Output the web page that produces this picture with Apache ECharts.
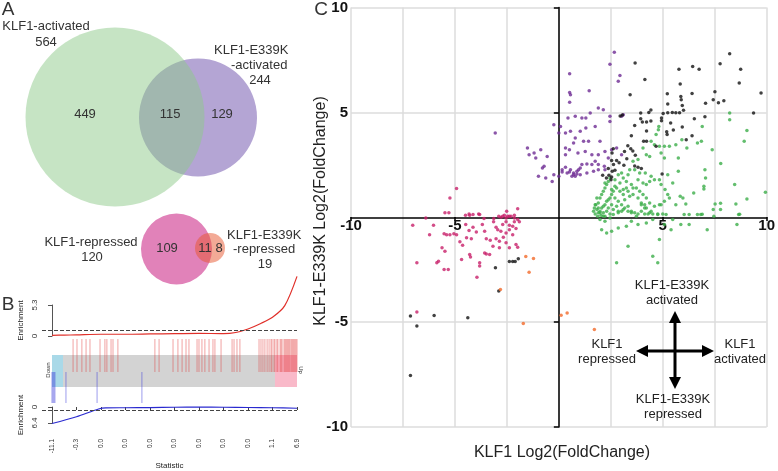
<!DOCTYPE html>
<html><head><meta charset="utf-8">
<script src="https://cdn.jsdelivr.net/npm/echarts@6/dist/echarts.min.js"></script>
<style>html,body{margin:0;padding:0;background:#fff}#c{width:778px;height:471px}</style>
</head><body><div id="c"></div>
<script>
// ---------- Panel A: Venn counts ----------
const vennActLabels = ['KLF1-activated', 'KLF1-E339K', '-activated'];
const vennActTotals = [564, 244];
const vennActParts = [449, 115, 129];
const vennRepLabels = ['KLF1-repressed', 'KLF1-E339K', '-repressed'];
const vennRepTotals = [120, 19];
const vennRepParts = [109, 11, 8];

// ---------- Panel B: barcode plot ----------
const statTickLabels = ['-11.1','-0.3','0.0','0.0','0.0','0.0','0.0','0.0','0.0','1.1','6.9'];
const enrichUpX = [0,0.5,1,2,3,4,5,6,7,7.5,8,8.5,9,9.5,10];
const enrichUpY = [0.12,0.15,0.2,0.3,0.3,0.35,0.4,0.45,0.4,0.6,1.2,2.1,3.2,5.2,10.2];
const enrichDownX = [0,1,1.9,2.2,3,4,5,6,7,8,9,10];
const enrichDownY = [6.6,3.9,0.8,0.35,0.3,0.25,0.1,0.05,0.1,0.2,0.3,0.5];
const upBarcode = [0.86,1.02,1.22,1.39,1.55,1.96,2.16,2.24,2.41,2.49,2.69,4.20,4.37,4.94,5.14,5.31,5.47,5.59,5.92,6.00,6.12,6.24,6.41,6.57,6.65,6.90,7.35,7.43,7.55,7.67,
  8.45,8.53,8.61,8.69,8.78,8.86,8.94,8.98,9.06,9.10,9.18,9.22,9.31,9.35,9.39,9.47,9.51,9.55,9.59,9.63,9.67,9.71,9.76,9.80,9.84,9.88,9.92,9.96,10.0];
const downBarcode = [0.0,0.04,0.08,0.12,0.57,1.84,3.67];

// ---------- Panel C: scatter (KLF1 log2FC, KLF1-E339K log2FC) ----------
const bothActivated = [[8.22,7.79],[7.76,7.32],[8.75,7.06],[6.44,7.19],[6.75,7.06],[5.78,7.06],[3.67,7.35],[4.14,6.57],[5.84,6.35],[8.68,6.40],[9.73,5.92],[7.51,5.98],[6.41,5.90],[5.22,5.89],[5.87,5.76],[5.89,5.60],[7.43,5.60],[7.68,5.46],[7.94,5.56],[7.06,5.43],[5.94,5.33],[3.43,5.84],[5.24,5.40],[5.02,4.95],[5.46,5.00],[5.24,4.98],[5.63,4.98],[5.81,4.98],[6.00,5.10],[6.52,4.70],[7.03,4.79],[9.37,4.97],[4.43,5.11],[4.33,5.00],[3.94,4.97],[4.94,4.73],[4.94,4.60],[5.38,4.49],[5.94,4.30],[5.51,4.16],[5.19,4.08],[5.21,3.95],[6.13,3.70],[6.41,3.89],[3.06,4.87],[2.95,4.83],[3.94,4.70],[4.02,4.54],[4.22,4.54],[3.65,4.38],[4.22,4.11],[4.43,4.59],[3.49,3.89],[4.08,3.62],[4.22,3.62],[4.68,3.38],[3.32,3.41],[3.46,3.27],[3.56,3.16],[3.16,3.14],[3.27,2.79],[3.13,2.48],[2.90,2.60],[2.62,3.27],[2.56,3.06],[2.54,2.70],[2.63,2.51],[2.78,2.71],[2.38,2.32],[2.57,2.19],[2.70,2.24],[2.41,2.00],[2.54,1.92],[2.29,1.87],[2.51,1.79],[2.11,2.00],[3.97,2.32],[3.81,2.38],[4.97,2.06],[3.68,2.95],[3.65,2.44],
  [-3.05,-2.41],[-2.89,-3.52],[-2.38,-2.11],[-2.22,-2.11],[-2.10,-2.11],[-1.95,-1.98],[-7.14,-4.71],[-6.00,-4.68],[-6.83,-5.19],[-4.38,-4.79],[-7.14,-7.54]];
const klf1Activated = [[8.22,4.97],[8.22,4.65],[9.05,4.14],[8.92,3.62],[6.90,4.33],[5.92,3.70],[6.16,3.30],[6.67,3.54],[6.86,3.62],[7.38,3.22],[7.79,2.56],[7.03,2.27],[7.06,1.87],[6.98,1.48],[6.98,1.35],[6.49,1.16],[8.46,1.56],[9.94,1.19],[9.05,0.87],[8.52,0.63],[8.70,0.14],[7.78,0.67],[7.52,0.63],[7.43,0.37],[6.90,0.14],[6.67,0.13],[6.27,0.13],[5.97,0.92],[5.84,1.00],[6.11,0.63],[5.63,0.60],[5.48,1.63],[5.75,2.83],[5.75,2.19],[5.24,2.03],[5.08,2.83],[4.92,3.06],[4.81,4.33],[4.79,4.17],[4.68,3.94],[4.44,3.62],[4.60,3.46],[4.84,3.38],[5.08,3.38],[5.32,3.38],[5.63,3.46],[4.05,3.30],[4.21,2.98],[4.37,2.90],[3.81,2.75],[3.57,2.67],[3.65,2.27],[3.89,2.11],[4.16,2.11],[4.44,1.95],[4.60,1.79],[4.84,1.79],[4.92,1.56],[5.11,1.32],[5.24,1.08],[5.32,0.92],[5.08,0.76],[4.84,0.60],[4.60,0.52],[4.37,0.68],[4.21,0.92],[4.05,1.08],[3.89,1.24],[3.73,1.40],[3.49,1.56],[3.25,1.71],[3.10,1.87],[3.02,2.11],[3.33,2.03],[3.41,2.27],[3.25,1.40],[2.94,1.63],[2.78,1.40],[2.62,1.24],[2.54,1.08],[2.46,0.92],[2.38,0.84],[2.30,0.76],[2.22,0.60],[2.14,0.52],[2.06,0.44],[1.98,0.29],[1.90,0.21],[1.83,0.37],[1.90,0.68],[1.98,0.92],[2.06,1.08],[2.14,1.24],[2.22,1.40],[2.30,1.56],[2.38,1.71],[2.22,1.63],[2.46,1.87],[2.70,1.79],[2.86,2.03],[2.70,0.92],[2.86,0.76],[3.02,0.60],[3.17,0.44],[3.33,0.29],[3.49,0.21],[3.65,0.21],[3.81,0.16],[3.97,0.29],[4.13,0.16],[4.29,0.16],[4.52,0.16],[4.76,0.16],[5.00,0.16],[2.86,0.21],[3.02,0.29],[2.54,0.60],[2.38,0.44],[2.30,0.29],[2.14,0.21],[1.75,0.16],[1.83,0.92],[1.78,0.60],[1.71,0.44],[1.67,0.29],[1.87,0.05],[2.03,0.10],[2.22,0.05],[2.46,0.16],[2.62,0.37],[2.78,0.52],[3.17,0.84],[3.41,1.00],[3.57,1.08],[3.81,0.92],[3.97,0.68],[4.13,0.60],[4.21,0.44],[4.44,0.29],[3.10,1.32],[3.33,1.24],[3.57,1.40],[3.81,1.79],[4.05,1.63],[4.21,1.56],[4.37,1.71],[3.10,1.08],[2.94,1.24],[2.70,1.48],[2.54,1.32],
  [1.75,0.60],[1.90,0.44],[1.98,0.21],[2.14,0.05],[1.98,-0.11],[2.22,-0.19],[2.46,-0.03],[2.62,0.13],[2.86,0.29],[3.10,0.37],[3.33,0.52],[3.49,0.29],[3.73,0.05],[3.97,0.60],[4.13,0.44],[4.37,0.21],[4.52,-0.11],[4.21,-0.27],[3.81,-0.35],[3.49,-0.19],[3.25,-0.43],[2.86,-0.51],[2.54,-0.67],[2.30,-0.75],[2.06,-0.59],[3.33,-1.38],[2.78,-2.17],[4.52,-1.86],[4.76,-2.17],[4.84,-1.06],[5.08,-0.35],[5.40,-0.59],[5.48,-0.11],[5.87,-0.35],[6.27,-0.35],[6.83,0.13],[7.14,-0.59],[7.46,0.05],[7.78,0.37],[8.65,0.13],[8.57,-0.35],[6.03,0.13],[4.76,0.13],[5.16,0.13],[4.92,0.60]];
const e339kActivated = [[2.67,7.87],[2.46,7.30],[2.94,6.76],[2.86,6.48],[0.52,6.84],[0.52,5.95],[0.56,5.84],[0.52,5.48],[1.46,6.03],[1.90,5.21],[2.14,5.13],[1.51,4.97],[1.30,4.73],[0.79,4.81],[1.11,4.73],[0.44,4.73],[2.46,4.81],[3.02,4.81],[3.10,4.89],[-0.24,4.41],[0.08,4.33],[0.00,4.02],[0.32,4.02],[0.56,4.10],[1.03,4.10],[1.30,4.25],[1.75,4.33],[2.46,4.57],[1.98,3.62],[1.43,3.62],[1.19,3.62],[0.79,3.78],[0.71,3.54],[0.51,3.22],[0.32,3.30],[0.32,2.98],[0.92,3.06],[1.27,3.14],[1.59,2.98],[1.90,2.98],[2.22,3.14],[2.54,3.22],[2.78,3.30],[3.02,2.98],[2.38,2.83],[1.75,2.67],[1.59,2.51],[1.35,2.54],[1.11,2.51],[1.03,2.35],[0.87,2.19],[0.71,2.11],[0.56,2.27],[0.32,2.38],[0.16,2.27],[0.16,2.16],[0.40,2.11],[0.63,1.95],[0.79,1.95],[0.95,2.27],[1.35,2.11],[1.67,2.19],[1.90,2.27],[0.00,1.95],[-0.32,1.71],[-0.63,1.87],[-0.98,1.95],[-0.79,2.35],[-0.71,2.43],[-1.43,2.98],[-1.11,2.83],[-1.19,3.06],[-0.87,3.22],[-0.56,2.90],[-1.51,3.30],[-0.24,2.03],[1.90,2.51],[2.19,2.43],[2.22,2.27],[-3.06,4.02],[0.71,2.03],[0.87,2.06],[1.03,2.03],[0.51,2.16]];
const klf1Repressed = [[-7.03,-0.38],[-6.40,-0.03],[-6.03,-0.38],[-6.22,-0.83],[-5.52,-0.79],[-5.40,-0.83],[-5.24,-0.83],[-5.05,-0.79],[-4.92,-0.83],[-5.48,0.21],[-5.29,0.21],[-5.62,-1.46],[-5.87,-2.17],[-5.79,-2.10],[-5.52,-2.49],[-5.32,-2.49],[-6.83,-2.17],[-4.49,0.10],[-4.29,0.10],[-4.13,0.13],[-3.81,0.13],[-4.48,-0.35],[-4.32,-0.63],[-4.13,-0.48],[-3.97,-0.70],[-3.68,-0.35],[-3.57,-0.67],[-4.21,-1.02],[-4.63,-1.33],[-4.29,-1.78],[-4.25,-1.90],[-3.81,-2.17],[-3.81,-2.33],[-3.94,-2.86],[-3.57,-1.70],[-3.49,-1.75],[-3.33,-1.78],[-3.17,-1.38],[-3.30,-1.10],[-3.02,-1.02],[-2.86,-1.14],[-2.67,-0.95],[-2.54,-0.75],[-2.38,-0.60],[-2.22,-0.83],[-2.79,-0.67],[-2.70,-0.35],[-2.54,-0.22],[-2.38,-0.38],[-2.22,-0.43],[-2.06,-0.54],[-2.14,-0.22],[-1.98,-0.11],[-1.90,-0.22],[-2.54,-0.03],[-2.46,0.05],[-2.30,0.05],[-2.14,0.10],[-2.62,0.10],[-2.78,0.00],[-2.89,0.05],[-3.14,-0.22],[-3.02,-0.48],[-2.94,-0.59],[-3.49,-1.02],[-2.86,-1.46],[-2.54,-1.22],[-2.38,-1.46],[-2.06,-1.30],[-1.98,-1.43],[-4.44,-0.98],[-4.76,-1.17],[-5.48,-1.62],[-4.68,-2.02],[-6.83,-4.52],
  [-4.92,1.37],[-5.24,0.92],[-4.32,0.16],[-3.86,0.16],[-3.60,-0.06],[-3.13,-0.06],[-2.51,0.29],[-1.98,0.40],[-2.70,0.05],[-2.38,0.05],[-2.14,-0.03]];
const e339kRepressed = [[-1.59,-1.87],[-1.22,-1.97],[-1.43,-2.62],[-2.81,-3.44],[0.11,-4.67],[0.40,-4.56],[-1.71,-5.06],[1.71,-5.35]];
const scatterTicks = [-10,-5,5,10];

const FONT = 'Liberation Sans, Arial, sans-serif';
const chart = echarts.init(document.getElementById('c'), null, {renderer:'canvas'});

function txt(x, y, text, size, opts) {
  opts = opts || {};
  return {type:'text', x:x, y:y, rotation: opts.rot || 0, z: 100,
    style:{x:0, y:0, text:String(text), fill: opts.color || '#333', fontSize:size, fontFamily:FONT,
      fontWeight: opts.weight || 'normal', textAlign: opts.align || 'center', textVerticalAlign:'middle', verticalAlign:'middle'}};
}

const graphics = [
  txt(8, 10, 'A', 19), txt(8, 305, 'B', 19), txt(321, 10, 'C', 19),
  // Venn activated
  {type:'circle', shape:{cx:198, cy:117.5, r:59}, style:{fill:'rgb(180,165,212)'}},
  {type:'circle', shape:{cx:115, cy:117, r:89.5}, style:{fill:'rgba(141,201,137,0.5)'}},
  txt(46, 26, vennActLabels[0], 13), txt(46, 42, vennActTotals[0], 13),
  txt(214, 50, vennActLabels[1], 13, {align:'left'}), txt(231, 65, vennActLabels[2], 13, {align:'left'}), txt(260, 80, vennActTotals[1], 13),
  txt(85, 114, vennActParts[0], 13), txt(170, 114, vennActParts[1], 13), txt(222, 114, vennActParts[2], 13),
  // Venn repressed
  {type:'circle', shape:{cx:176.5, cy:249, r:35.5}, style:{fill:'rgb(225,130,185)'}},
  {type:'circle', shape:{cx:210, cy:248, r:15}, style:{fill:'rgba(231,85,45,0.5)'}},
  txt(91, 242, vennRepLabels[0], 13), txt(92, 257, vennRepTotals[0], 13),
  txt(227, 235, vennRepLabels[1], 13, {align:'left'}), txt(233, 249, vennRepLabels[2], 13, {align:'left'}), txt(265, 264, vennRepTotals[1], 13),
  txt(167, 248, vennRepParts[0], 13), txt(205, 248, vennRepParts[1], 13), txt(219, 248, vennRepParts[2], 13),
  // barcode side labels
  txt(48, 370, 'Down', 6, {rot:Math.PI/2}), txt(301, 370, 'Up', 6, {rot:-Math.PI/2}),
  // Panel C axis titles
  txt(321, 211, 'KLF1-E339K Log2(FoldChange)', 16, {rot:Math.PI/2, color:'#222'}),
  txt(562, 453, 'KLF1 Log2(FoldChange)', 16, {color:'#222'}),
  // annotation
  txt(672, 285, 'KLF1-E339K', 13, {color:'#222'}), txt(672, 300, 'activated', 13, {color:'#222'}),
  txt(607, 344, 'KLF1', 13, {color:'#222'}), txt(607, 359, 'repressed', 13, {color:'#222'}),
  txt(740, 344, 'KLF1', 13, {color:'#222'}), txt(740, 359, 'activated', 13, {color:'#222'}),
  txt(673, 399, 'KLF1-E339K', 13, {color:'#222'}), txt(673, 414, 'repressed', 13, {color:'#222'}),
  {type:'line', z:100, shape:{x1:645, y1:351, x2:705, y2:351}, style:{stroke:'#000', lineWidth:3}},
  {type:'line', z:100, shape:{x1:675, y1:320, x2:675, y2:380}, style:{stroke:'#000', lineWidth:3}},
  {type:'polygon', z:100, shape:{points:[[636,351],[648,345],[648,357]]}, style:{fill:'#000'}},
  {type:'polygon', z:100, shape:{points:[[714,351],[702,345],[702,357]]}, style:{fill:'#000'}},
  {type:'polygon', z:100, shape:{points:[[675,311],[669,323],[681,323]]}, style:{fill:'#000'}},
  {type:'polygon', z:100, shape:{points:[[675,389],[669,377],[681,377]]}, style:{fill:'#000'}}
];

function barRender(y0, y1, color) {
  return function (params, api) {
    const p0 = api.coord([api.value(0), y0]);
    const p1 = api.coord([api.value(0), y1]);
    return {type:'line', shape:{x1:p0[0], y1:p0[1], x2:p1[0], y2:p1[1]}, style:{stroke:color, lineWidth:1}};
  };
}
function rectRender(params, api) {
  const a = api.coord([api.value(0), api.value(2)]);
  const b = api.coord([api.value(1), api.value(3)]);
  return {type:'rect', shape:{x:a[0], y:a[1], width:b[0]-a[0], height:b[1]-a[1]}, style:{fill:api.value(4)}};
}

const bxMin = -0.408;
const dashed = (v) => ({silent:true, symbol:'none', label:{show:false}, lineStyle:{type:'dashed', color:'#444', width:1}, data:[{yAxis:v}]});

const option = {
  animation:false,
  textStyle:{fontFamily:FONT},
  graphic: graphics,
  grid:[
    {left:351, top:7, width:419, height:420},
    {left:42, top:305, width:255, height:31},
    {left:42, top:339, width:255, height:64},
    {left:42, top:407, width:255, height:22}
  ],
  xAxis:[
    {gridIndex:0, type:'value', min:-10, max:10, interval:2.5,
      axisLine:{onZero:true, lineStyle:{color:'#000', width:1.5}},
      axisTick:{show:false}, axisLabel:{show:false},
      splitLine:{show:true, lineStyle:{color:'#dcdcdc', width:1.5}}},
    {gridIndex:1, type:'value', min:bxMin, max:10, show:false},
    {gridIndex:2, type:'value', min:bxMin, max:10, show:false},
    {gridIndex:3, type:'value', min:bxMin, max:10, position:'bottom', offset:8,
      axisLine:{show:false}, splitLine:{show:false},
      axisTick:{show:true, customValues:[0,1,2,3,4,5,6,7,8,9,10], length:3, lineStyle:{color:'#444'}},
      axisLabel:{customValues:[0,1,2,3,4,5,6,7,8,9,10], rotate:90, fontSize:6.5, color:'#333', margin:8,
        formatter:(v)=>statTickLabels[Math.round(v)]},
      name:'Statistic', nameLocation:'middle', nameGap:31, nameTextStyle:{fontSize:8, color:'#222'}},
    // tick labels of the scatter's x axis, placed on the zero line
    {gridIndex:0, type:'value', min:-10, max:10, position:'bottom', offset:-210,
      axisLine:{show:false}, splitLine:{show:false},
      axisTick:{show:true, customValues:scatterTicks, length:4, lineStyle:{color:'#000', width:1.5}},
      axisLabel:{customValues:scatterTicks, fontSize:15, fontWeight:'bold', color:'#111', margin:1}}
  ],
  yAxis:[
    {gridIndex:0, type:'value', min:-10, max:10, interval:2.5,
      axisLine:{onZero:true, lineStyle:{color:'#000', width:1.5}},
      axisTick:{show:true, customValues:scatterTicks, length:5, lineStyle:{color:'#000', width:1.5}},
      axisLabel:{customValues:scatterTicks, fontSize:15, fontWeight:'bold', color:'#111', margin:3},
      splitLine:{show:true, lineStyle:{color:'#dcdcdc', width:1.5}}},
    {gridIndex:1, type:'value', min:0, max:5.3, splitLine:{show:false},
      axisLine:{show:true, lineStyle:{color:'#555'}},
      axisTick:{show:true, customValues:[0,5.3], length:4, lineStyle:{color:'#555'}},
      axisLabel:{customValues:[0,5.3], rotate:90, fontSize:8, color:'#333', margin:3},
      name:'Enrichment', nameLocation:'middle', nameGap:17, nameTextStyle:{fontSize:8, color:'#222'}},
    {gridIndex:2, type:'value', min:0, max:64, inverse:true, show:false},
    {gridIndex:3, type:'value', min:0, max:6.4, inverse:true, splitLine:{show:false},
      axisLine:{show:true, lineStyle:{color:'#555'}},
      axisTick:{show:true, customValues:[0,6.4], length:4, lineStyle:{color:'#555'}},
      axisLabel:{customValues:[0,6.4], rotate:90, fontSize:8, color:'#333', margin:3},
      name:'Enrichment', nameLocation:'middle', nameGap:17, nameTextStyle:{fontSize:8, color:'#222'}}
  ],
  series:[
    {type:'scatter', xAxisIndex:0, yAxisIndex:0, data:klf1Activated, symbolSize:3.5, itemStyle:{color:'#3cae4a'}},
    {type:'scatter', xAxisIndex:0, yAxisIndex:0, data:e339kActivated, symbolSize:3.5, itemStyle:{color:'#6e2c94'}},
    {type:'scatter', xAxisIndex:0, yAxisIndex:0, data:bothActivated, symbolSize:3.5, itemStyle:{color:'#111111'}},
    {type:'scatter', xAxisIndex:0, yAxisIndex:0, data:klf1Repressed, symbolSize:3.5, itemStyle:{color:'#c8206a'}},
    {type:'scatter', xAxisIndex:0, yAxisIndex:0, data:e339kRepressed, symbolSize:3.5, itemStyle:{color:'#f26a2a'}},
    {type:'line', xAxisIndex:1, yAxisIndex:1, data:enrichUpX.map((x,i)=>[x, enrichUpY[i]]), smooth:0.3, showSymbol:false, clip:false,
      lineStyle:{color:'#e0302a', width:1.2}, markLine:dashed(1.03)},
    {type:'custom', xAxisIndex:2, yAxisIndex:2, renderItem:rectRender, silent:true,
      data:[[0,10,16,48,'#d3d3d3'],[0,0.45,16,48,'#a9d9e8'],[9.1,10,16,48,'#f9b9c9']]},
    {type:'custom', xAxisIndex:2, yAxisIndex:2, renderItem:barRender(0,33,'rgba(225,50,50,0.45)'), silent:true, data:upBarcode.map(v=>[v])},
    {type:'custom', xAxisIndex:2, yAxisIndex:2, renderItem:barRender(33,64,'rgba(60,60,220,0.5)'), silent:true, data:downBarcode.map(v=>[v])},
    {type:'line', xAxisIndex:3, yAxisIndex:3, data:enrichDownX.map((x,i)=>[x, enrichDownY[i]]), smooth:0.3, showSymbol:false, clip:false,
      lineStyle:{color:'#2a2ad0', width:1.2}, markLine:dashed(1.45)}
  ]
};
chart.setOption(option);
</script></body></html>
